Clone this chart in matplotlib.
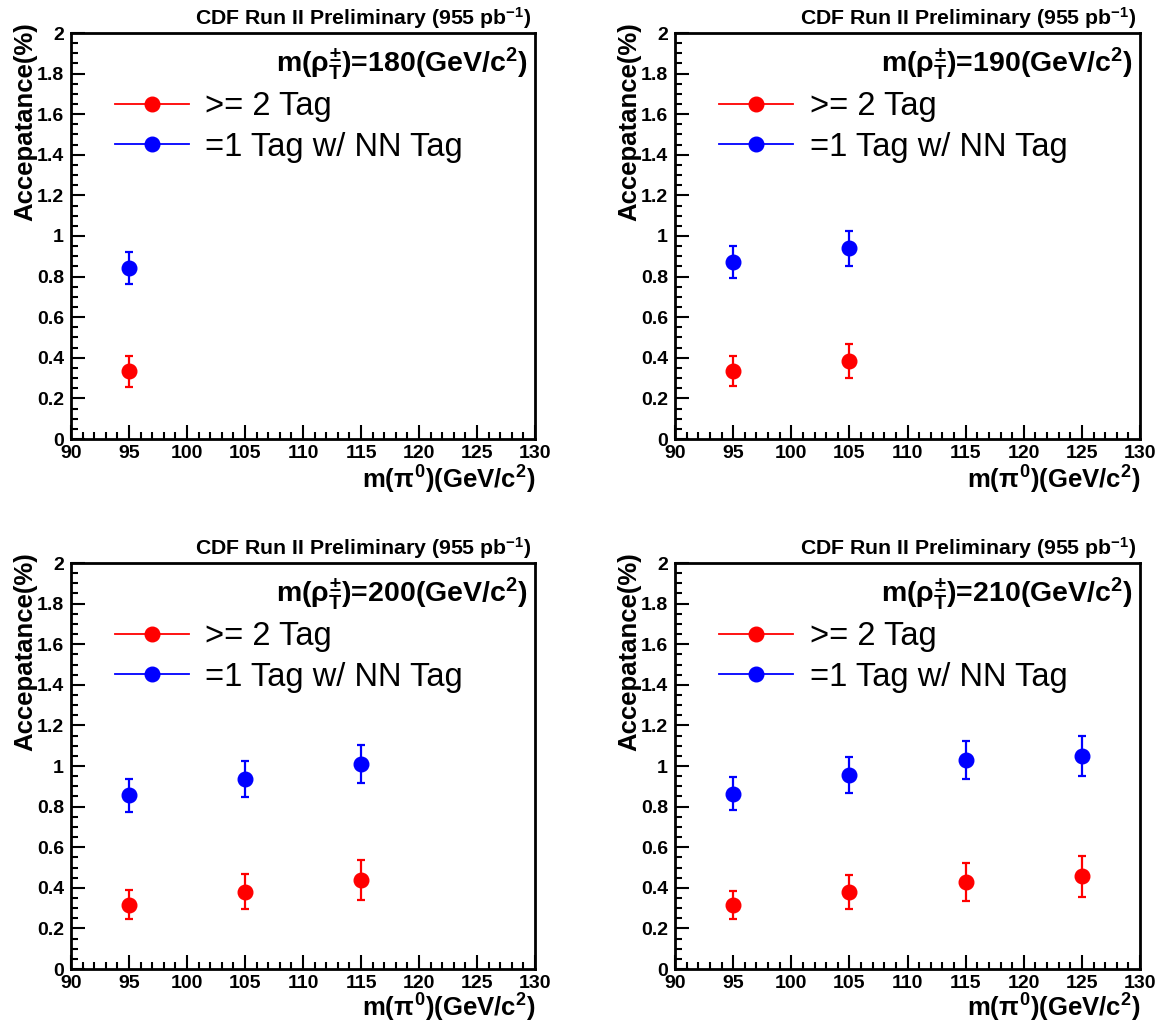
import matplotlib
matplotlib.use("Agg")
import matplotlib.pyplot as plt
from matplotlib.lines import Line2D
from matplotlib.ticker import MultipleLocator, FuncFormatter

plt.rcParams['font.family'] = ['Liberation Sans', 'DejaVu Sans']
plt.rcParams['mathtext.fontset'] = 'custom'
plt.rcParams['mathtext.rm'] = 'Liberation Sans:bold'
plt.rcParams['mathtext.bf'] = 'Liberation Sans:bold'
plt.rcParams['mathtext.it'] = 'Liberation Sans:bold'
plt.rcParams['mathtext.sf'] = 'Liberation Sans:bold'

# ---- data ----
rho_masses = [180, 190, 200, 210]
pi_masses = [95, 105, 115, 125]

two_tag_vals = [[0.333], [0.336, 0.384], [0.316, 0.381, 0.438], [0.315, 0.380, 0.428, 0.457]]
two_tag_errs = [[0.075], [0.075, 0.085], [0.071, 0.087, 0.098], [0.069, 0.083, 0.094, 0.101]]
one_tag_vals = [[0.843], [0.871, 0.939], [0.855, 0.937, 1.009], [0.864, 0.956, 1.029, 1.050]]
one_tag_errs = [[0.080], [0.080, 0.087], [0.080, 0.088, 0.093], [0.080, 0.089, 0.094, 0.099]]

labels = [">= 2 Tag", "=1 Tag w/ NN Tag"]
colors = ["#ff0000", "#0000ff"]

W, H = 1158, 1022
fig = plt.figure(figsize=(W / 100, H / 100), dpi=100)

# axes boxes in pixels: (left, top, right, bottom)
boxes = [(71, 33, 535, 439), (675, 33, 1140, 439),
         (71, 563, 535, 969), (675, 563, 1140, 969)]

for i, (l, t, r, b) in enumerate(boxes):
    ax = fig.add_axes([l / W, 1 - b / H, (r - l) / W, (b - t) / H])
    n = len(two_tag_vals[i])
    xs = pi_masses[:n]
    for vals, errs, c in [(two_tag_vals[i], two_tag_errs[i], colors[0]),
                          (one_tag_vals[i], one_tag_errs[i], colors[1])]:
        ax.errorbar(xs, vals, yerr=errs, fmt='o', color=c, ms=10.5,
                    elinewidth=1.6, capsize=3.2, capthick=1.6, zorder=3)
    ax.set_xlim(90, 130)
    ax.set_ylim(0, 2)
    ax.xaxis.set_major_locator(MultipleLocator(5))
    ax.xaxis.set_minor_locator(MultipleLocator(1))
    ax.yaxis.set_major_locator(MultipleLocator(0.2))
    ax.yaxis.set_minor_locator(MultipleLocator(0.05))
    ax.yaxis.set_major_formatter(FuncFormatter(lambda v, p: ('%g' % round(v, 2))))
    ax.tick_params(which='both', direction='in', top=False, right=False,
                   width=1.5, labelsize=14)
    ax.tick_params(which='major', length=10)
    ax.tick_params(axis='x', which='major', pad=4)
    ax.tick_params(axis='y', which='major', pad=5)
    ax.tick_params(which='minor', length=5)
    for lab in ax.get_xticklabels() + ax.get_yticklabels():
        lab.set_fontweight('bold')
    for sp in ax.spines.values():
        sp.set_linewidth(2)

    ax.set_ylabel("Accepatance(%)", fontsize=18.5, fontweight='bold')
    ax.yaxis.set_label_coords(-0.072, 1.027)
    ax.yaxis.label.set_horizontalalignment('right')
    ax.set_xlabel(r"m($\pi^{0}$)(GeV/c$^{2}$)", fontsize=18.5, fontweight='bold')
    ax.xaxis.set_label_coords(1.0, -0.061 if i < 2 else -0.056)
    ax.xaxis.label.set_horizontalalignment('right')

    ax.text(0.992, 1.037, r"CDF Run II Preliminary (955 pb$^{-1}$)",
            transform=ax.transAxes, ha='right', va='center',
            fontsize=15.3, fontweight='bold')
    ax.text(0.985, 0.925, r"m($\rho^{\pm}_{T}$)=%d(GeV/c$^{2}$)" % rho_masses[i],
            transform=ax.transAxes, ha='right', va='center',
            fontsize=20.5, fontweight='bold')

    handles = [Line2D([], [], color=c, marker='o', ms=10.5, lw=1.3) for c in colors]
    ax.legend(handles, labels, loc='upper left', bbox_to_anchor=(0.095, 0.857),
              frameon=False, fontsize=23.5, handlelength=2.25, handletextpad=0.52,
              labelspacing=0.3, borderpad=0, borderaxespad=0)

fig.savefig("out.png", dpi=100)
